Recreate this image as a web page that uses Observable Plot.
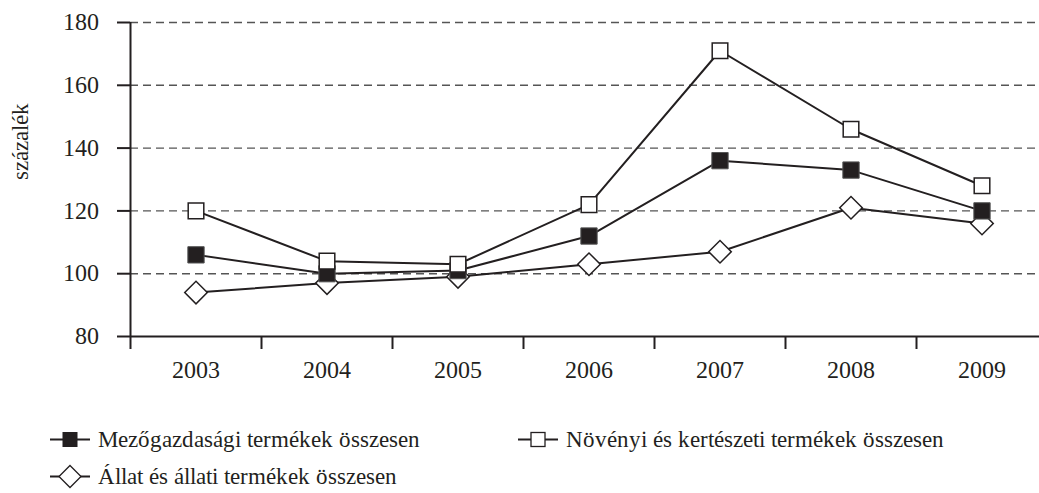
<!DOCTYPE html>
<html lang="hu"><head><meta charset="utf-8">
<script src="https://cdn.jsdelivr.net/npm/d3@7"></script>
<script src="https://cdn.jsdelivr.net/npm/@observablehq/plot@0.6"></script>
<style>
@font-face{font-family:'RefSerif';src:local('Liberation Serif'),local('LiberationSerif'),local('Liberation Serif Regular'),local('LiberationSerif-Regular'),local('Times New Roman');}
body{margin:0;font-size:22px;}
</style></head><body>
<div id="chart" style="font-family:'RefSerif','Liberation Serif','Times New Roman',serif"></div>
<div style="font-family:'RefSerif','Liberation Serif','Times New Roman',serif;font-size:23px;color:#231f20;line-height:1;white-space:nowrap;padding-left:50px;padding-top:27px">
  <div style="display:flex;height:25px;align-items:center">
    <div style="display:flex;align-items:center;width:468px"><svg width="40" height="25" viewBox="0 0 40 25" style="margin-right:8px"><line x1="0" y1="12.5" x2="40" y2="12.5" stroke="#231f20" stroke-width="2"/><rect x="12.5" y="5" width="15" height="15" fill="#231f20"/></svg><span>Mezőgazdasági termékek összesen</span></div>
    <div style="display:flex;align-items:center"><svg width="40" height="25" viewBox="0 0 40 25" style="margin-right:8px"><line x1="0" y1="12.5" x2="40" y2="12.5" stroke="#231f20" stroke-width="2"/><rect x="13" y="5.5" width="14" height="14" fill="#fff" stroke="#231f20" stroke-width="1.3"/></svg><span>Növényi és kertészeti termékek összesen</span></div>
  </div>
  <div style="display:flex;height:25px;align-items:center;margin-top:12px">
    <div style="display:flex;align-items:center"><svg width="40" height="25" viewBox="0 0 40 25" style="margin-right:8px"><line x1="0" y1="12.5" x2="40" y2="12.5" stroke="#231f20" stroke-width="2"/><path d="M20 1.5 L31 12.5 L20 23.5 L9 12.5 Z" fill="#fff" stroke="#231f20" stroke-width="1.3"/></svg><span>Állat és állati termékek összesen</span></div>
  </div>
</div>
<script>
const years = [2003, 2004, 2005, 2006, 2007, 2008, 2009];
const mezo = [106, 100, 101, 112, 136, 133, 120];
const noveny = [120, 104, 103, 122, 171, 146, 128];
const allat = [94, 97, 99, 103, 107, 121, 116];
const yTicks = [80, 100, 120, 140, 160, 180];
const gridTicks = [100, 120, 140, 160, 180];
const yLabel = "százalék";

const xDomain = [years[0] - 0.5, years[years.length - 1] + 0.5];
const boundaries = d3.range(xDomain[0], xDomain[1] + 0.01, 1);
const toRows = vals => years.map((x, i) => ({x, y: vals[i]}));
const dMezo = toRows(mezo), dNov = toRows(noveny), dAll = toRows(allat);
const ink = "#231f20";

const chart = Plot.plot({
  width: 1039,
  height: 400,
  marginLeft: 130,
  marginRight: 0,
  marginTop: 22,
  marginBottom: 64,
  style: {fontFamily: "'RefSerif','Liberation Serif','Times New Roman',serif", fontSize: "24px", color: ink, overflow: "visible"},
  x: {type: "linear", domain: xDomain, range: [130, 1047]},
  y: {domain: [80, 180]},
  marks: [
    Plot.ruleY(gridTicks, {stroke: "#555", strokeWidth: 1.4, strokeDasharray: "8,5"}),
    Plot.ruleY([yTicks[0]], {stroke: ink, strokeWidth: 2}),
    Plot.ruleX([xDomain[0]], {y1: yTicks[0], y2: yTicks[yTicks.length - 1], stroke: ink, strokeWidth: 2}),
    Plot.axisY({ticks: yTicks, tickSize: 13, tickPadding: 19, strokeWidth: 2, stroke: ink, label: null, fill: ink}),
    Plot.axisX({ticks: boundaries, tickSize: 13, tickFormat: () => "", strokeWidth: 2, stroke: ink, label: null}),
    Plot.axisX({ticks: years, tickSize: 0, tickPadding: 24, tickFormat: d => String(d), label: null, fill: ink}),
    Plot.text([yLabel], {frameAnchor: "left", rotate: -90, dx: -110, fontSize: 23, fill: ink}),
    Plot.line(dMezo, {x: "x", y: "y", stroke: ink, strokeWidth: 2}),
    Plot.line(dNov, {x: "x", y: "y", stroke: ink, strokeWidth: 2}),
    Plot.line(dAll, {x: "x", y: "y", stroke: ink, strokeWidth: 2}),
    Plot.dot(dAll, {x: "x", y: "y", symbol: "square", r: 9, rotate: 45, fill: "#fff", stroke: ink, strokeWidth: 1.5}),
    Plot.dot(dMezo, {x: "x", y: "y", symbol: "square", r: 9.2, fill: ink, stroke: "#555", strokeWidth: 1}),
    Plot.dot(dNov, {x: "x", y: "y", symbol: "square", r: 8.8, fill: "#fff", stroke: ink, strokeWidth: 1.5})
  ]
});
chart.style.display = "block";
document.getElementById("chart").appendChild(chart);
</script>
</body></html>
